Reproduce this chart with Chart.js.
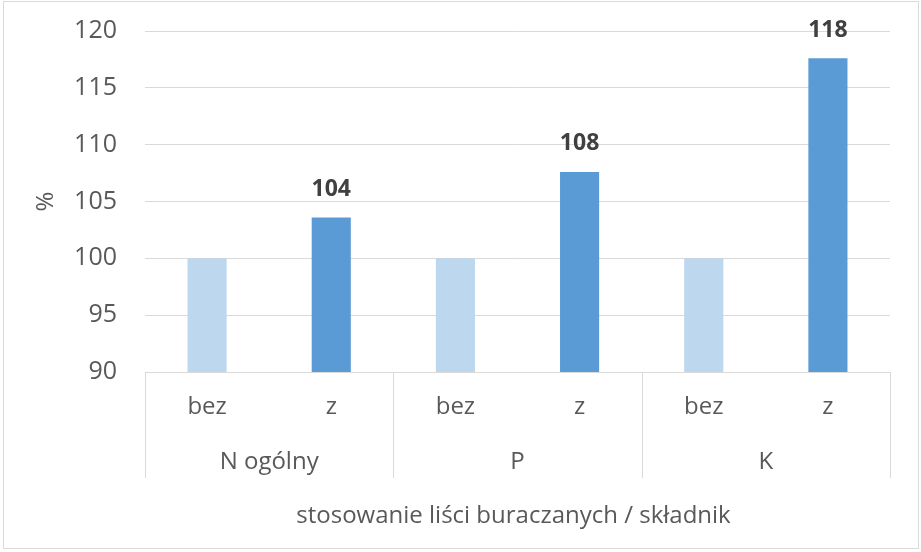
<!DOCTYPE html>
<html>
<head>
<meta charset="utf-8">
<script src="https://cdn.jsdelivr.net/npm/chart.js@4.4.1/dist/chart.umd.min.js"></script>
<style>
  html, body { margin: 0; padding: 0; background: #fff; }
  canvas { display: block; }
</style>
</head>
<body>
<canvas id="chart" width="921" height="552"></canvas>
<script>
// Dane z wykresu
const groups = ['N ogólny', 'P', 'K'];
const subLabels = ['bez', 'z'];
const bezValues = [100, 100, 100];
const zValues = [103.6, 107.6, 117.6];
const zLabels = ['104', '108', '118'];
const yTicks = [90, 95, 100, 105, 110, 115, 120];

const textColor = '#595959';
const gridColor = '#d9d9d9';
const font = "'Open Sans', 'Noto Sans', sans-serif";

// Spłaszcz do 6 słupków: bez, z, bez, z, ...
const labels = [];
const values = [];
const colors = [];
groups.forEach((g, i) => {
    labels.push(g + ' ' + subLabels[0], g + ' ' + subLabels[1]);
    values.push(bezValues[i], zValues[i]);
    colors.push('#bdd7ee', '#5b9bd5');
});

// Dwupoziomowa oś kategorii + etykiety wartości + ramka
const categoryAxis = {
    id: 'categoryAxis',
    afterDraw(chart) {
        const ctx = chart.ctx;
        const x = chart.scales.x;
        const area = chart.chartArea;
        const bottom = area.bottom;
        ctx.save();

        // ramka wykresu
        ctx.strokeStyle = gridColor;
        ctx.lineWidth = 1;
        ctx.strokeRect(3.5, 1.5, 915, 547);

        // linia osi i separatory grup
        ctx.beginPath();
        ctx.moveTo(area.left, bottom + 0.5);
        ctx.lineTo(area.right, bottom + 0.5);
        const step = x.getPixelForValue(1) - x.getPixelForValue(0);
        for (let i = 0; i <= groups.length; i++) {
            const px = Math.round(x.getPixelForValue(i * 2) - step / 2) + 0.5;
            ctx.moveTo(px, bottom);
            ctx.lineTo(px, bottom + 106);
        }
        ctx.stroke();

        ctx.fillStyle = textColor;
        ctx.textAlign = 'center';
        ctx.textBaseline = 'middle';
        ctx.font = '24px ' + font;
        labels.forEach((l, i) => {
            ctx.fillText(subLabels[i % 2], x.getPixelForValue(i), bottom + 35);
        });
        groups.forEach((g, i) => {
            const cx = (x.getPixelForValue(i * 2) + x.getPixelForValue(i * 2 + 1)) / 2;
            ctx.fillText(g, cx, bottom + 90);
        });
        ctx.fillText('stosowanie liści buraczanych / składnik', (area.left + area.right) / 2 - 4, bottom + 144);

        // etykiety wartości nad słupkami "z"
        const meta = chart.getDatasetMeta(0);
        ctx.fillStyle = '#404040';
        ctx.font = 'bold 23px ' + font;
        zLabels.forEach((t, i) => {
            const bar = meta.data[i * 2 + 1];
            ctx.fillText(t, bar.x, bar.y - 28);
        });
        ctx.restore();
    }
};

new Chart(document.getElementById('chart'), {
    type: 'bar',
    data: {
        labels: labels,
        datasets: [{
            data: values,
            backgroundColor: colors,
            borderWidth: 0,
            barPercentage: 0.315,
            categoryPercentage: 1
        }]
    },
    options: {
        responsive: false,
        animation: false,
        devicePixelRatio: 1,
        layout: { padding: { left: 32, right: 31, top: 31, bottom: 180 } },
        plugins: {
            legend: { display: false },
            tooltip: { enabled: false }
        },
        scales: {
            x: { display: false },
            y: {
                min: 90,
                max: 120,
                afterBuildTicks: scale => { scale.ticks = yTicks.map(v => ({ value: v })); },
                afterFit: scale => {
                    scale.width = 113;
                    scale.paddingTop = 0;
                    scale.paddingBottom = 0;
                },
                grid: { color: gridColor, drawTicks: false },
                border: { display: false },
                ticks: {
                    color: textColor,
                    padding: 28,
                    font: { family: font, size: 25 }
                },
                title: {
                    display: true,
                    text: '%',
                    color: textColor,
                    padding: 0,
                    font: { family: font, size: 24 }
                }
            }
        }
    },
    plugins: [categoryAxis]
});
</script>
</body>
</html>
